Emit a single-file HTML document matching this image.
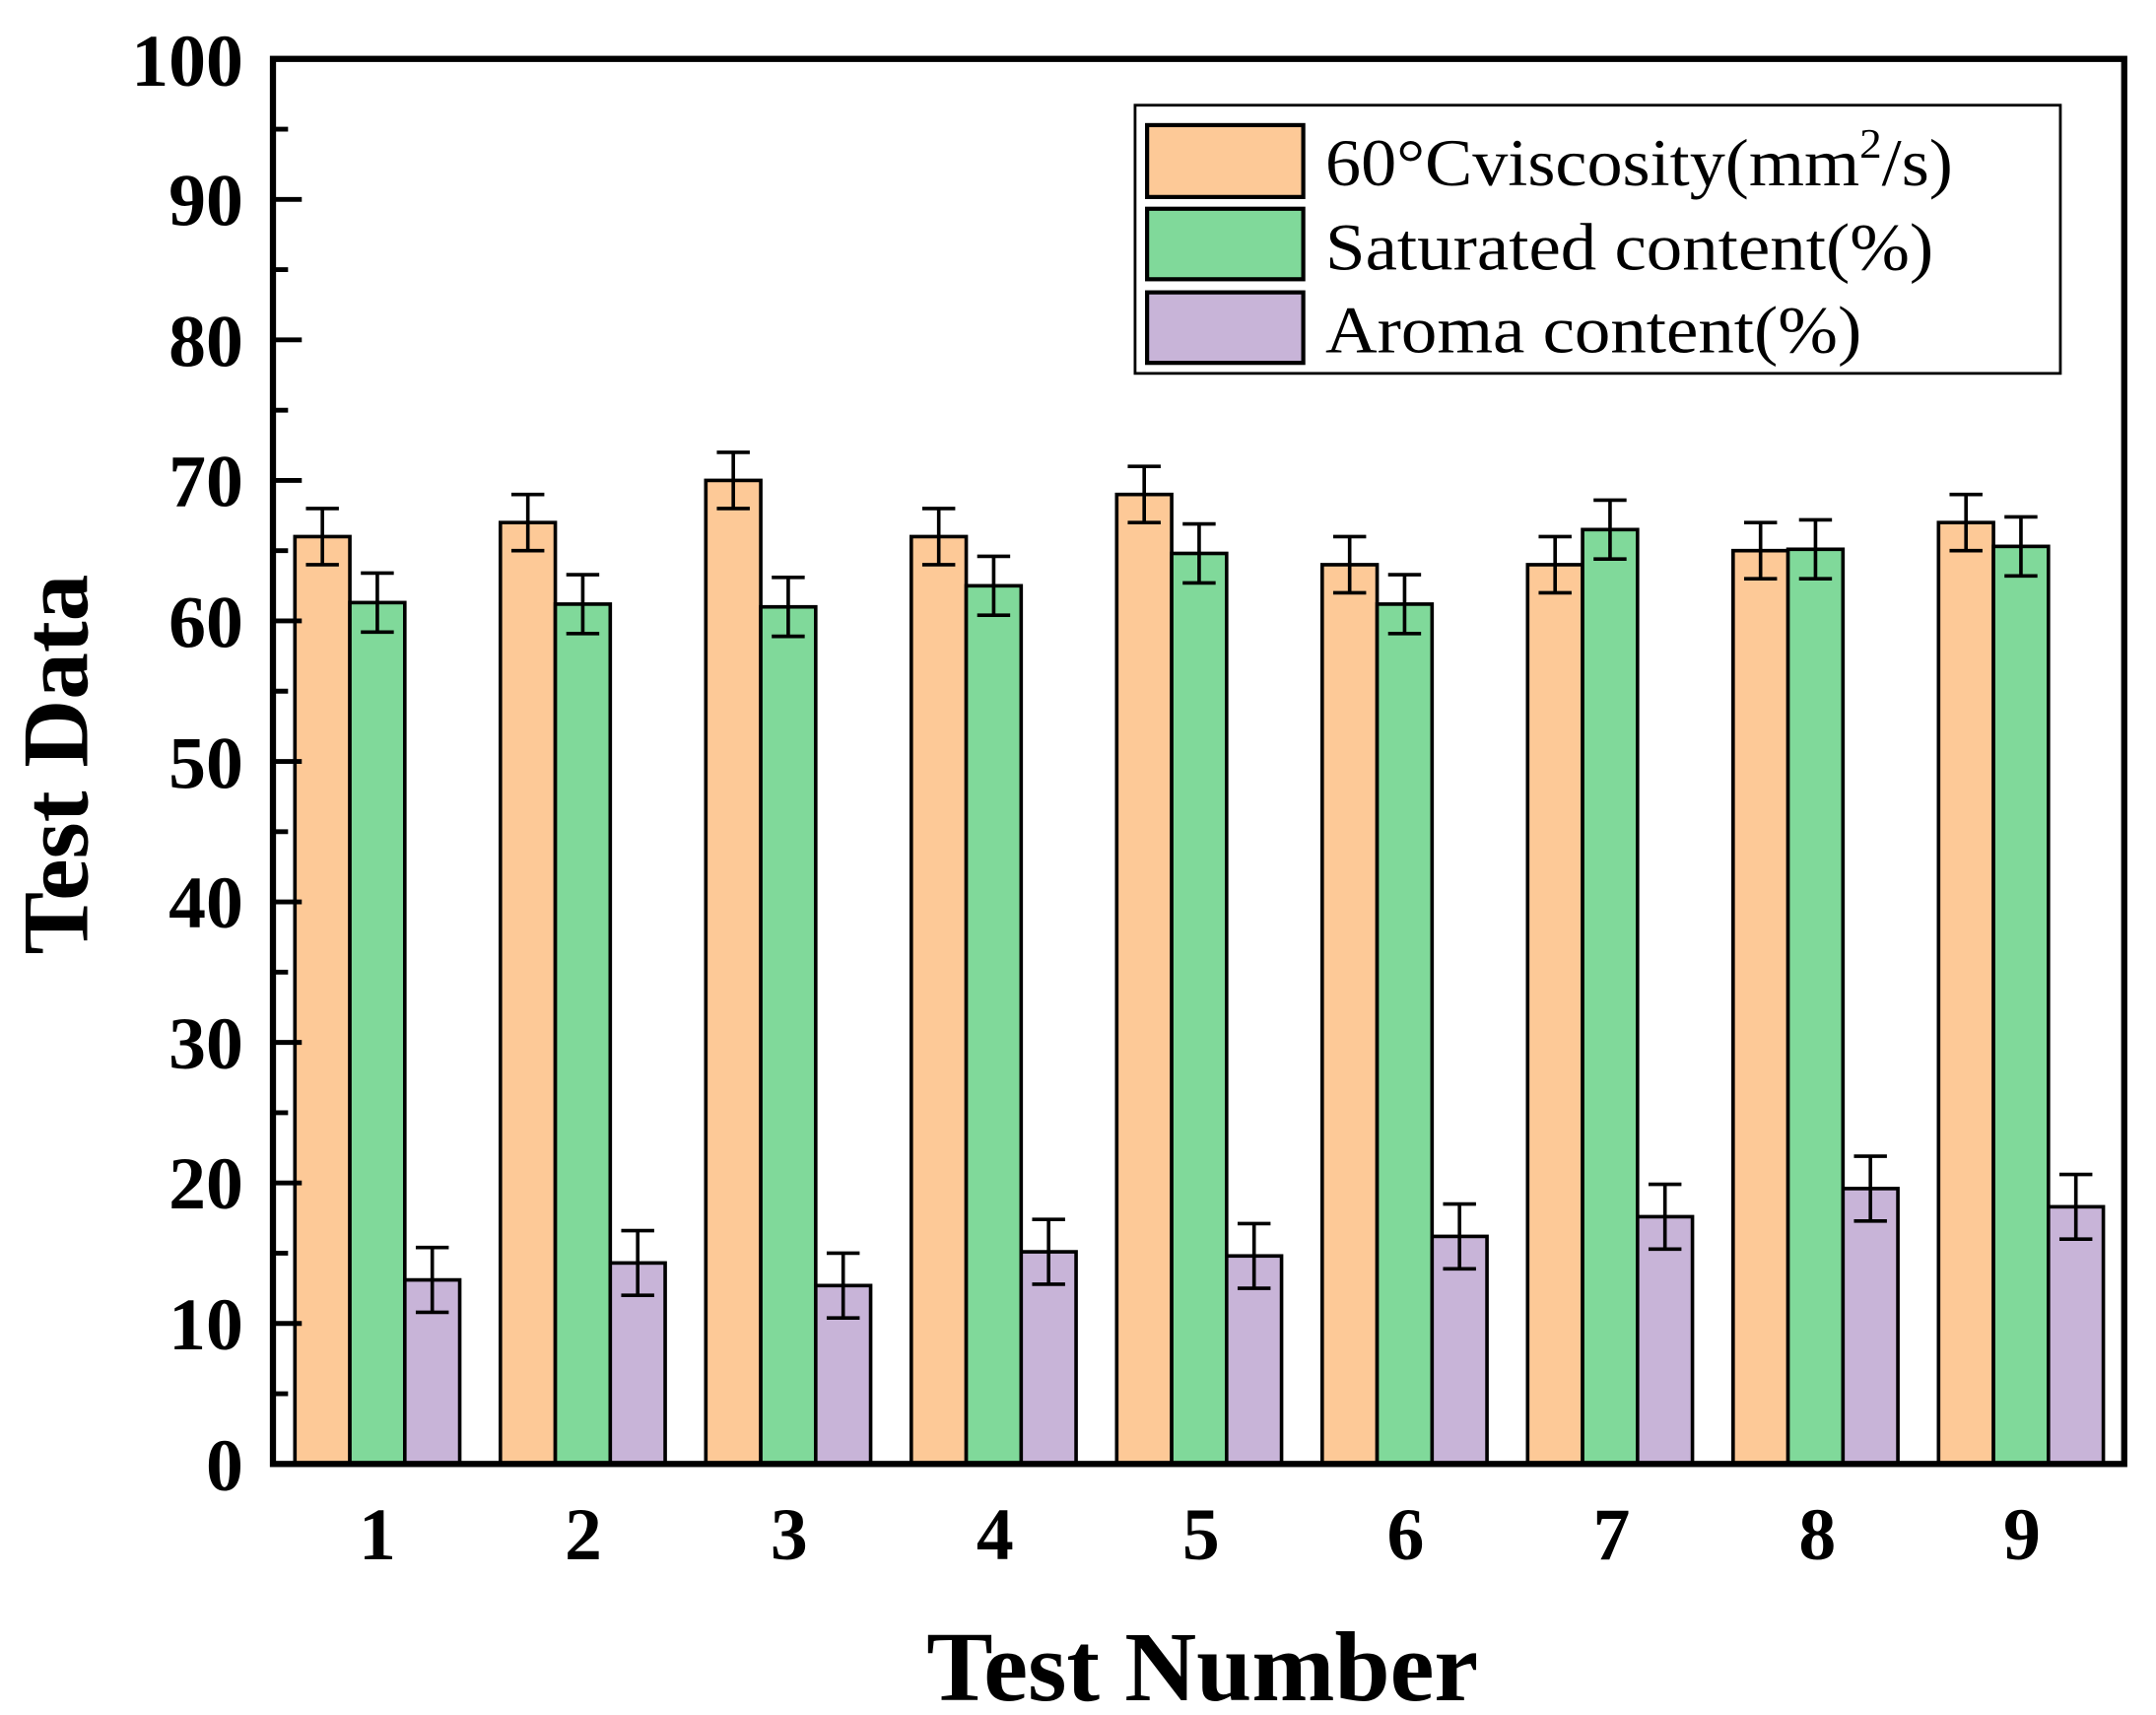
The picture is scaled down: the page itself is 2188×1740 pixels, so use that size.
<!DOCTYPE html>
<html><head><meta charset="utf-8"><style>html,body{margin:0;padding:0;background:#fff}svg{display:block}</style></head><body>
<svg width="2188" height="1740" viewBox="0 0 1560 1240.6" preserveAspectRatio="none" xmlns="http://www.w3.org/2000/svg" font-family="'Liberation Serif', serif">
<g transform="translate(1.741,-0.248) scale(0.9937,0.99647)">
<g stroke="#000" stroke-width="2.6">
<g fill="#FDC997">
<rect x="213" y="389.8" width="40" height="673.2"/>
<rect x="362.6" y="379.6" width="40" height="683.4"/>
<rect x="512.2" y="349" width="40" height="714"/>
<rect x="661.8" y="389.8" width="40" height="673.2"/>
<rect x="811.4" y="359.2" width="40" height="703.8"/>
<rect x="961" y="410.2" width="40" height="652.8"/>
<rect x="1110.6" y="410.2" width="40" height="652.8"/>
<rect x="1260.2" y="400" width="40" height="663"/>
<rect x="1409.8" y="379.6" width="40" height="683.4"/>
</g>
<g fill="#80D99A">
<rect x="253" y="437.7" width="40" height="625.3"/>
<rect x="402.6" y="438.8" width="40" height="624.2"/>
<rect x="552.2" y="440.8" width="40" height="622.2"/>
<rect x="701.8" y="425.5" width="40" height="637.5"/>
<rect x="851.4" y="402" width="40" height="661"/>
<rect x="1001" y="438.8" width="40" height="624.2"/>
<rect x="1150.6" y="384.7" width="40" height="678.3"/>
<rect x="1300.2" y="399" width="40" height="664"/>
<rect x="1449.8" y="396.9" width="40" height="666.1"/>
</g>
<g fill="#C8B4D8">
<rect x="293" y="929.4" width="40" height="133.6"/>
<rect x="442.6" y="917.1" width="40" height="145.9"/>
<rect x="592.2" y="933.5" width="40" height="129.5"/>
<rect x="741.8" y="909" width="40" height="154"/>
<rect x="891.4" y="912" width="40" height="151"/>
<rect x="1041" y="897.8" width="40" height="165.2"/>
<rect x="1190.6" y="883.5" width="40" height="179.5"/>
<rect x="1340.2" y="863.1" width="40" height="199.9"/>
<rect x="1489.8" y="876.3" width="40" height="186.7"/>
</g>
<g fill="none">
<path d="M233 369.4V410.2M221 369.4H245M221 410.2H245"/>
<path d="M382.6 359.2V400M370.6 359.2H394.6M370.6 400H394.6"/>
<path d="M532.2 328.6V369.4M520.2 328.6H544.2M520.2 369.4H544.2"/>
<path d="M681.8 369.4V410.2M669.8 369.4H693.8M669.8 410.2H693.8"/>
<path d="M831.4 338.8V379.6M819.4 338.8H843.4M819.4 379.6H843.4"/>
<path d="M981 389.8V430.6M969 389.8H993M969 430.6H993"/>
<path d="M1130.6 389.8V430.6M1118.6 389.8H1142.6M1118.6 430.6H1142.6"/>
<path d="M1280.2 379.6V420.4M1268.2 379.6H1292.2M1268.2 420.4H1292.2"/>
<path d="M1429.8 359.2V400M1417.8 359.2H1441.8M1417.8 400H1441.8"/>

<path d="M273 416.3V459.1M261 416.3H285M261 459.1H285"/>
<path d="M422.6 417.4V460.2M410.6 417.4H434.6M410.6 460.2H434.6"/>
<path d="M572.2 419.4V462.2M560.2 419.4H584.2M560.2 462.2H584.2"/>
<path d="M721.8 404.1V446.9M709.8 404.1H733.8M709.8 446.9H733.8"/>
<path d="M871.4 380.6V423.4M859.4 380.6H883.4M859.4 423.4H883.4"/>
<path d="M1021 417.4V460.2M1009 417.4H1033M1009 460.2H1033"/>
<path d="M1170.6 363.3V406.1M1158.6 363.3H1182.6M1158.6 406.1H1182.6"/>
<path d="M1320.2 377.6V420.4M1308.2 377.6H1332.2M1308.2 420.4H1332.2"/>
<path d="M1469.8 375.5V418.3M1457.8 375.5H1481.8M1457.8 418.3H1481.8"/>

<path d="M313 905.9V952.9M301 905.9H325M301 952.9H325"/>
<path d="M462.6 893.6V940.6M450.6 893.6H474.6M450.6 940.6H474.6"/>
<path d="M612.2 910V957M600.2 910H624.2M600.2 957H624.2"/>
<path d="M761.8 885.5V932.5M749.8 885.5H773.8M749.8 932.5H773.8"/>
<path d="M911.4 888.5V935.5M899.4 888.5H923.4M899.4 935.5H923.4"/>
<path d="M1061 874.3V921.3M1049 874.3H1073M1049 921.3H1073"/>
<path d="M1210.6 860V907M1198.6 860H1222.6M1198.6 907H1222.6"/>
<path d="M1360.2 839.6V886.6M1348.2 839.6H1372.2M1348.2 886.6H1372.2"/>
<path d="M1509.8 852.8V899.8M1497.8 852.8H1521.8M1497.8 899.8H1521.8"/>
</g>
</g>
<g stroke="#000" stroke-width="3.5">
<rect x="197" y="43" width="1348" height="1020" fill="none" stroke-width="4.5"/>
<path d="M197 145H218M197 247H218M197 349H218M197 451H218M197 553H218M197 655H218M197 757H218M197 859H218M197 961H218"/>
<path d="M197 94H208M197 196H208M197 298H208M197 400H208M197 502H208M197 604H208M197 706H208M197 808H208M197 910H208M197 1012H208"/>
</g>
</g>
<g font-weight="bold" font-size="54" text-anchor="end">
<text x="176" y="62">100</text><text x="176" y="163">90</text><text x="176" y="265">80</text><text x="176" y="366">70</text><text x="176" y="468">60</text><text x="176" y="570">50</text><text x="176" y="671">40</text><text x="176" y="773">30</text><text x="176" y="874">20</text><text x="176" y="976">10</text><text x="176" y="1078">0</text>
</g>
<g font-weight="bold" font-size="54" text-anchor="middle">
<text x="273" y="1128">1</text><text x="422" y="1128">2</text><text x="571" y="1128">3</text><text x="720" y="1128">4</text><text x="869" y="1128">5</text><text x="1017" y="1128">6</text><text x="1166" y="1128">7</text><text x="1315" y="1128">8</text><text x="1463" y="1128">9</text>
</g>
<text x="870" y="1230" font-weight="bold" font-size="72" text-anchor="middle">Test Number</text>
<text transform="translate(63,553) rotate(-90)" font-weight="bold" font-size="68" text-anchor="middle">Test Data</text>
<rect x="821.3" y="76.1" width="669.5" height="194" fill="#fff" stroke="#000" stroke-width="2"/>
<g stroke="#000" stroke-width="3">
<rect x="830" y="90.5" width="113" height="52" fill="#FDC997"/>
<rect x="830" y="151" width="113" height="51" fill="#80D99A"/>
<rect x="830" y="211.5" width="113" height="51" fill="#C8B4D8"/>
</g>
<g font-size="48">
<text x="959" y="134" textLength="454" lengthAdjust="spacingAndGlyphs">60°Cviscosity(mm<tspan font-size="30" dy="-20">2</tspan><tspan dy="20">/s)</tspan></text>
<text x="959" y="195" textLength="440" lengthAdjust="spacingAndGlyphs">Saturated content(%)</text>
<text x="959" y="255" textLength="388" lengthAdjust="spacingAndGlyphs">Aroma content(%)</text>
</g>
</svg>
</body></html>
